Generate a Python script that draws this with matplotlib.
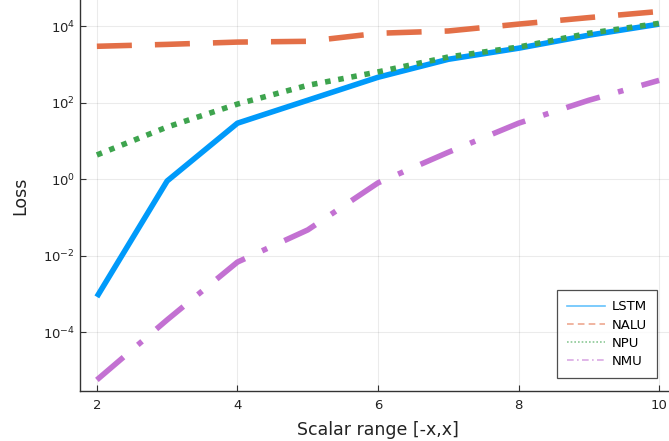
import matplotlib
matplotlib.use("Agg")
import matplotlib.pyplot as plt
from matplotlib.lines import Line2D

# scalar range x for [-x, x]
ranges = [2, 3, 4, 5, 6, 7, 8, 9, 10]

# losses (log10)
lstm = [10**-3.08, 10**-0.05, 10**1.46, 10**2.06, 10**2.66, 10**3.13, 10**3.42, 10**3.76, 10**4.05]
nalu = [10**3.47, 10**3.52, 10**3.58, 10**3.60, 10**3.81, 10**3.87, 10**4.05, 10**4.22, 10**4.38]
npu = [10**0.63, 10**1.36, 10**1.96, 10**2.45, 10**2.80, 10**3.19, 10**3.45, 10**3.81, 10**4.07]
nmu = [10**-5.25, 10**-3.68, 10**-2.17, 10**-1.33, 10**-0.10, 10**0.70, 10**1.46, 10**2.06, 10**2.58]

names = ["LSTM", "NALU", "NPU", "NMU"]
colors = ["#009AFA", "#E36F47", "#3EA44E", "#C371D2"]
# dash patterns in multiples of the line width
dash_styles = [None, (6.3, 4.15), (1, 1.4), (6.3, 3.4, 1, 3.4)]
legend_dashes = [None, (4, 2.5), (1, 1.2), (4, 2, 1, 2)]

fig = plt.figure(figsize=(6.69, 4.41), dpi=100)
ax = fig.add_axes([80 / 669, 50 / 441, 596 / 669, 391 / 441])

for ys, c, d in zip([lstm, nalu, npu, nmu], colors, dash_styles):
    line, = ax.plot(ranges, ys, color=c, lw=4.0, solid_capstyle="butt",
                    dash_capstyle="butt")
    if d is not None:
        line.set_dashes(d)

ax.set_yscale("log")
ax.set_xlim(1.76, 10.24)
ax.set_ylim(10**-5.54, 10**4.68)
ax.set_xticks([2, 4, 6, 8, 10])
ax.set_yticks([1e-4, 1e-2, 1e0, 1e2, 1e4])
ax.minorticks_off()
ax.grid(True, color="black", alpha=0.08, lw=0.8)
ax.spines["top"].set_visible(False)
ax.spines["right"].set_visible(False)
for s in ["left", "bottom"]:
    ax.spines[s].set_color("#333333")
    ax.spines[s].set_linewidth(1.0)
ax.tick_params(direction="in", length=4, color="#333333",
               labelsize=9.5, labelcolor="#222222")
ax.tick_params(axis="x", pad=6)
ax.set_xlabel("Scalar range [-x,x]", fontsize=12.5, color="#222222", labelpad=6)
ax.set_ylabel("Loss", fontsize=12.5, color="#222222", labelpad=10)

handles = []
for c, d in zip(colors, legend_dashes):
    h = Line2D([], [], color=c, lw=1.2, alpha=0.6)
    if d is not None:
        h.set_dashes(d)
    handles.append(h)
leg = ax.legend(handles, names, loc="lower right",
                bbox_to_anchor=(657 / 669, 63 / 441),
                bbox_transform=fig.transFigure,
                fontsize=9.5, frameon=True, fancybox=False,
                handlelength=2.9, handletextpad=0.5,
                borderpad=0.75, labelspacing=0.4, borderaxespad=0)
leg.get_frame().set_edgecolor("#222222")
leg.get_frame().set_linewidth(0.9)

fig.savefig("out.png", dpi=100)
